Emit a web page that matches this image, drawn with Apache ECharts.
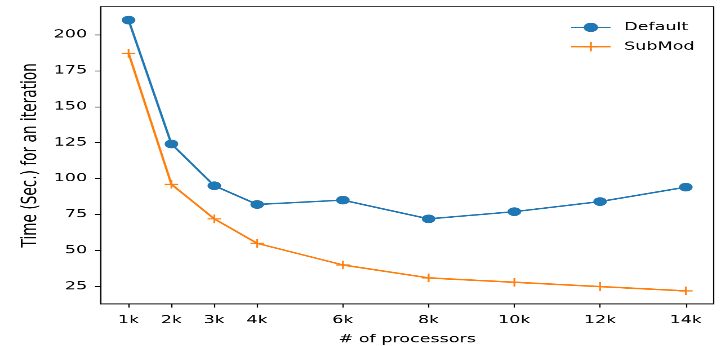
<!DOCTYPE html>
<html>
<head>
<meta charset="utf-8">
<script src="https://cdn.jsdelivr.net/npm/echarts@6/dist/echarts.min.js"></script>
<style>
html, body { margin: 0; padding: 0; overflow: hidden; background: #fff; }
#wrap { width: 721px; height: 346px; overflow: hidden; position: relative; }
#chart { width: 640px; height: 480px; position: absolute; left: 0; top: 0;
  transform: scale(1.12656, 0.72083); transform-origin: 0 0; }
</style>
</head>
<body>
<div id="wrap"><div id="chart"></div></div>
<script>
// Data (thousands of processors)
var processors = [1, 2, 3, 4, 6, 8, 10, 12, 14];
var defaultTimes = [210, 124, 95, 82, 85, 72, 77, 84, 94];
var subModTimes = [187, 96, 72, 55, 40, 31, 28, 25, 22];
var yTicks = [25, 50, 75, 100, 125, 150, 175, 200];
var seriesNames = ['Default', 'SubMod'];

var FONT = 'DejaVu Sans';
var plus = 'path://M-0.8,-6 L0.8,-6 L0.8,-0.8 L6,-0.8 L6,0.8 L0.8,0.8 L0.8,6 L-0.8,6 L-0.8,0.8 L-6,0.8 L-6,-0.8 L-0.8,-0.8 Z';

var chart = echarts.init(document.getElementById('chart'), null, { devicePixelRatio: 2, renderer: 'canvas' });
chart.setOption({
  animation: false,
  backgroundColor: '#fff',
  textStyle: { fontFamily: FONT },
  grid: { left: 89.4, right: 6.5, top: 9.3, bottom: 58.3, containLabel: false, outerBoundsMode: 'none',
    show: true, borderColor: '#000', borderWidth: 1.1, backgroundColor: 'transparent' },
  legend: {
    orient: 'vertical',
    left: 501,
    top: 25,
    itemWidth: 35,
    itemHeight: 16,
    itemGap: 10.8,
    data: seriesNames,
    textStyle: { fontFamily: FONT, fontSize: 15.6, color: '#000', padding: [0, 0, 0, 7] }
  },
  xAxis: {
    type: 'value',
    min: 0.35,
    max: 14.65,
    name: '# of processors',
    nameLocation: 'middle',
    nameGap: 41,
    nameTextStyle: { fontFamily: FONT, fontSize: 15.6, color: '#000' },
    splitLine: { show: false },
    axisLine: { show: true, onZero: false, lineStyle: { color: '#000', width: 1.1 } },
    axisTick: { show: true, length: 5, lineStyle: { color: '#000', width: 1.1 }, customValues: processors },
    axisLabel: { fontFamily: FONT, fontSize: 15.6, color: '#000', margin: 14.5, customValues: processors,
      formatter: function (v) { return v + 'k'; } }
  },
  yAxis: {
    type: 'value',
    min: 12.9,
    max: 219.3,
    name: 'Time (Sec.) for an iteration',
    nameLocation: 'middle',
    nameGap: 38.5,
    nameRotate: 90,
    nameTextStyle: { fontFamily: FONT, fontSize: 19, color: '#000' },
    splitLine: { show: false },
    axisLine: { show: true, onZero: false, lineStyle: { color: '#000', width: 1.1 } },
    axisTick: { show: true, length: 5, lineStyle: { color: '#000', width: 1.1 }, customValues: yTicks },
    axisLabel: { fontFamily: FONT, fontSize: 15.6, color: '#000', margin: 12, customValues: yTicks }
  },
  series: [
    {
      name: seriesNames[0],
      type: 'line',
      data: processors.map(function (p, i) { return [p, defaultTimes[i]]; }),
      symbol: 'circle',
      symbolSize: 12,
      showAllSymbol: true,
      lineStyle: { color: '#1f77b4', width: 2.1 },
      itemStyle: { color: '#1f77b4', borderWidth: 0 },
      z: 3
    },
    {
      name: seriesNames[1],
      type: 'line',
      data: processors.map(function (p, i) { return [p, subModTimes[i]]; }),
      symbol: plus,
      symbolSize: 12,
      showAllSymbol: true,
      lineStyle: { color: '#ff7f0e', width: 2.1 },
      itemStyle: { color: '#ff7f0e', borderWidth: 0 },
      z: 2
    }
  ]
});
</script>
</body>
</html>
